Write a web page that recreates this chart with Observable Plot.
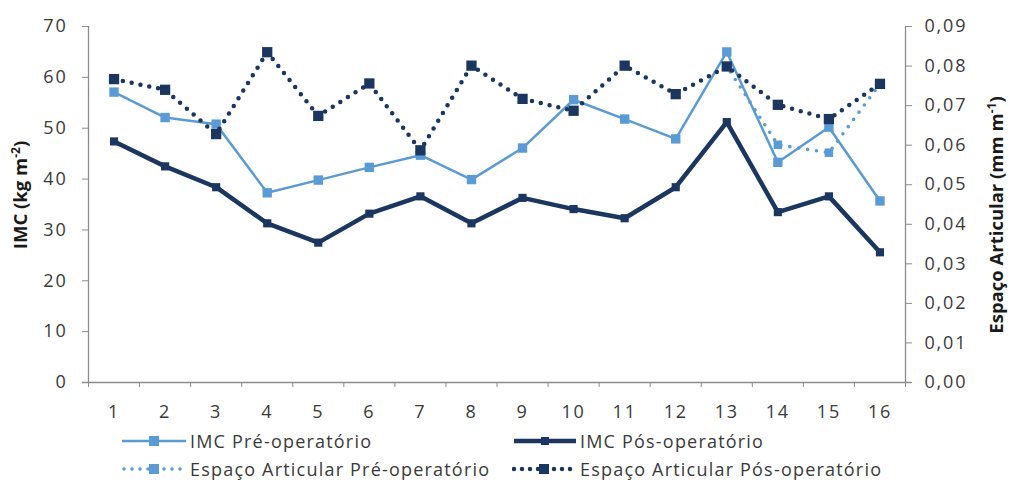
<!DOCTYPE html>
<html><head><meta charset="utf-8">
<script src="https://cdn.jsdelivr.net/npm/d3@7"></script>
<script src="https://cdn.jsdelivr.net/npm/@observablehq/plot@0.6"></script>
<style>
body{margin:0;background:#fff;}
#wrap{position:relative;width:1010px;height:482px;font-family:"Open Sans",sans-serif;overflow:hidden}
#wrap svg.chart text{letter-spacing:1.8px}
.leg{position:absolute;height:24px;display:flex;align-items:center;font-size:18px;color:#3a3a3a;letter-spacing:1.2px;white-space:nowrap}
.leg svg{margin-right:4px;display:block}
</style></head><body><div id="wrap"></div>
<script>
const categories = ["1","2","3","4","5","6","7","8","9","10","11","12","13","14","15","16"];
const imcPre = [57.1, 52.1, 50.8, 37.3, 39.8, 42.3, 44.7, 39.9, 46.1, 55.6, 51.8, 47.9, 65.0, 43.3, 50.2, 35.7];
const imcPos = [47.4, 42.5, 38.4, 31.3, 27.5, 33.2, 36.6, 31.3, 36.3, 34.1, 32.3, 38.4, 51.2, 33.5, 36.6, 25.6];
const espPre = [0.0767, 0.0740, 0.0628, 0.0835, 0.0674, 0.0756, 0.0587, 0.0801, 0.0717, 0.0687, 0.0801, 0.0729, 0.0799, 0.0601, 0.0581, 0.0755];
const espPos = [0.0767, 0.0740, 0.0628, 0.0835, 0.0674, 0.0756, 0.0587, 0.0801, 0.0717, 0.0687, 0.0801, 0.0729, 0.0799, 0.0702, 0.0666, 0.0755];
const imcTicks = [0, 10, 20, 30, 40, 50, 60, 70];
const espTicks = [0, 0.01, 0.02, 0.03, 0.04, 0.05, 0.06, 0.07, 0.08, 0.09];
const seriesNames = ["IMC Pré-operatório", "IMC Pós-operatório", "Espaço Articular Pré-operatório", "Espaço Articular Pós-operatório"];
const yTitle = ["IMC (kg m", "-2", ")"];
const y2Title = ["Espaço Articular (mm m", "-1", ")"];

const LIGHT = "#5b9bd5", DARK = "#1b365f", AXIS = "#8c8c8c", TXT = "#3a3a3a";
const k = imcTicks[imcTicks.length - 1] / espTicks[espTicks.length - 1];
const rows = vals => categories.map((c, i) => ({x: +c, v: vals[i]}));
const dPreI = rows(imcPre), dPosI = rows(imcPos), dPreE = rows(espPre), dPosE = rows(espPos);
const bounds = d3.range(0, categories.length + 1).map(i => i + 0.5);
const yE = d => d.v * k;

const chart = Plot.plot({
  width: 1010, height: 425,
  marginLeft: 88, marginRight: 105, marginTop: 26, marginBottom: 43,
  style: {fontFamily: "Open Sans", fontSize: "18px", color: TXT, background: "#fff"},
  x: {type: "linear", domain: [0.5, categories.length + 0.5]},
  y: {domain: [0, 70]},
  marks: [
    Plot.axisY({ticks: imcTicks, tickSize: 6, tickPadding: 15, label: null, stroke: AXIS, fill: TXT, tickFormat: d => String(d)}),
    Plot.axisY({anchor: "right", ticks: espTicks.map(v => v * k), tickSize: 6, tickPadding: 13, label: null, stroke: AXIS, fill: TXT,
      tickFormat: d => (d / k).toFixed(2).replace(".", ",")}),
    Plot.axisX({ticks: bounds, tickSize: 5, tickFormat: () => "", label: null, stroke: AXIS}),
    Plot.axisX({ticks: categories.map(Number), tickSize: 0, tickPadding: 23, label: null, fill: TXT, tickFormat: d => categories[d - 1]}),
    Plot.ruleX([0.5, categories.length + 0.5], {y1: 0, y2: 70, stroke: AXIS, strokeWidth: 1.3}),
    Plot.ruleY([0], {stroke: AXIS, strokeWidth: 1.3, insetLeft: -6, insetRight: -6}),
    Plot.line(dPreI, {x: "x", y: "v", stroke: LIGHT, strokeWidth: 2.5}),
    Plot.dot(dPreI, {x: "x", y: "v", symbol: "square", r: 5.3, fill: LIGHT, stroke: "none"}),
    Plot.line(dPosI, {x: "x", y: "v", stroke: DARK, strokeWidth: 4.5}),
    Plot.dot(dPosI, {x: "x", y: "v", symbol: "square", r: 4.6, fill: DARK, stroke: "none"}),
    Plot.line(dPreE, {x: "x", y: yE, stroke: LIGHT, strokeWidth: 3.6, strokeDasharray: "0 9", strokeLinecap: "round"}),
    Plot.dot(dPreE, {x: "x", y: yE, symbol: "square", r: 4.8, fill: LIGHT, stroke: "none"}),
    Plot.line(dPosE, {x: "x", y: yE, stroke: DARK, strokeWidth: 4.5, strokeDasharray: "0 9", strokeLinecap: "round"}),
    Plot.dot(dPosE, {x: "x", y: yE, symbol: "square", r: 5.8, fill: DARK, stroke: "none"})
  ]
});
chart.classList.add("chart");
const wrap = document.getElementById("wrap");
wrap.appendChild(chart);

const svg = d3.select(chart);
function title(parts, x, y) {
  const t = svg.append("text")
    .attr("transform", `translate(${x},${y}) rotate(-90)`)
    .attr("text-anchor", "middle")
    .attr("font-family", "Open Sans").attr("font-size", 18.5).attr("font-weight", "bold")
    .attr("fill", "#1a1a1a").style("letter-spacing", "0px");
  t.append("tspan").text(parts[0]);
  t.append("tspan").attr("dy", -7).attr("font-size", 12).text(parts[1]);
  t.append("tspan").attr("dy", 7).text(parts[2]);
}
title(yTitle, 27, 195);
title(y2Title, 1003, 215);

function legendItem(name, left, cy, swW, kind) {
  const div = document.createElement("div");
  div.className = "leg";
  div.style.left = left + "px";
  div.style.top = (cy - 12) + "px";
  const s = d3.create("svg").attr("width", swW).attr("height", 14);
  const mid = swW / 2;
  if (kind === 0) {
    s.append("line").attr("x1", 0).attr("x2", swW).attr("y1", 7).attr("y2", 7).attr("stroke", LIGHT).attr("stroke-width", 2.5);
    s.append("rect").attr("x", mid - 5).attr("y", 2).attr("width", 10).attr("height", 10).attr("fill", LIGHT);
  } else if (kind === 1) {
    s.append("line").attr("x1", 0).attr("x2", swW).attr("y1", 7).attr("y2", 7).attr("stroke", DARK).attr("stroke-width", 4.5);
    s.append("rect").attr("x", mid - 4).attr("y", 3).attr("width", 8).attr("height", 8).attr("fill", DARK);
  } else {
    const c = kind === 2 ? LIGHT : DARK;
    s.append("line").attr("x1", 2).attr("x2", swW).attr("y1", 7).attr("y2", 7).attr("stroke", c)
      .attr("stroke-width", kind === 2 ? 3.6 : 4.5).attr("stroke-dasharray", "0 8").attr("stroke-linecap", "round");
    s.append("rect").attr("x", mid - 5).attr("y", 2).attr("width", 10).attr("height", 10).attr("fill", c);
  }
  div.appendChild(s.node());
  const sp = document.createElement("span");
  sp.textContent = name;
  div.appendChild(sp);
  wrap.appendChild(div);
}
legendItem(seriesNames[0], 122, 441, 64, 0);
legendItem(seriesNames[1], 514, 441, 62, 1);
legendItem(seriesNames[2], 122, 469, 64, 2);
legendItem(seriesNames[3], 512, 469, 64, 3);
</script></body></html>
